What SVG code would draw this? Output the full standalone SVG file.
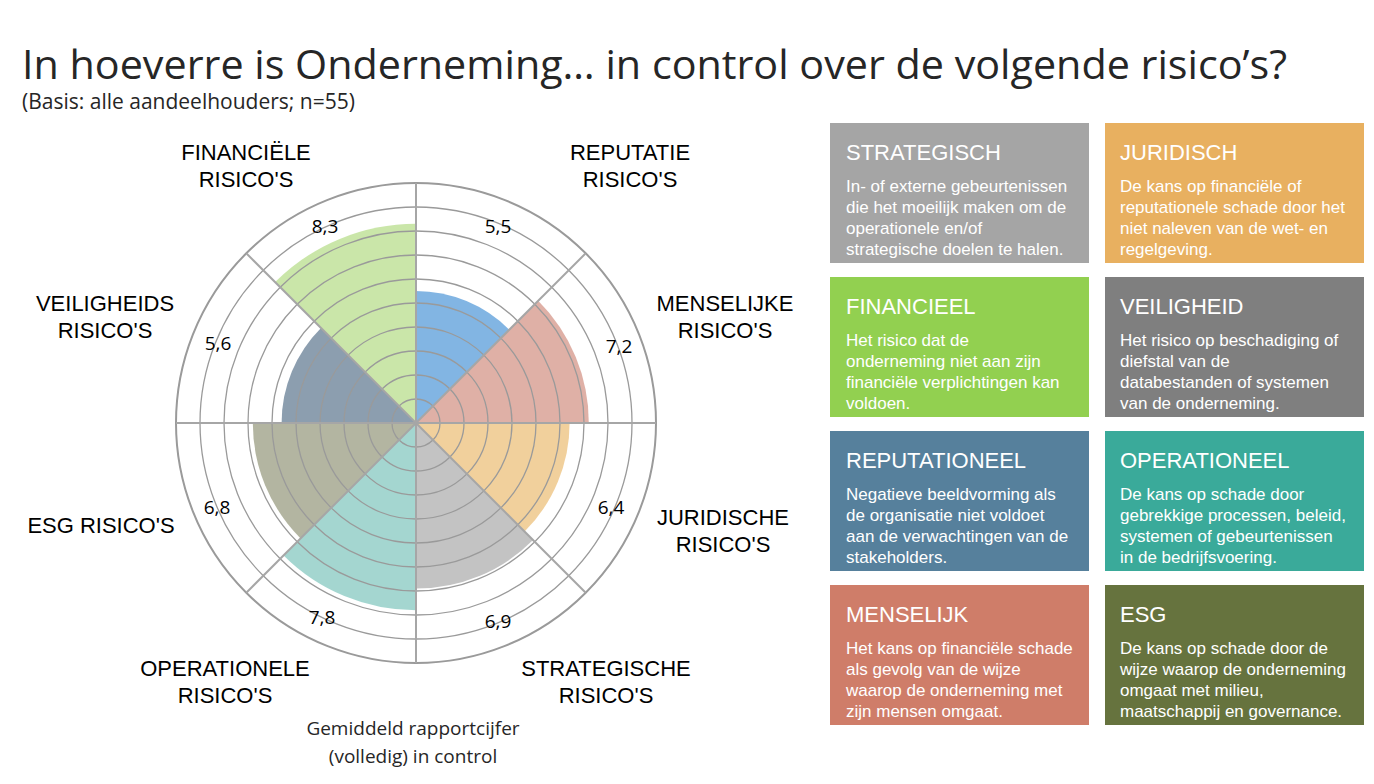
<svg xmlns="http://www.w3.org/2000/svg" width="1374" height="784" viewBox="0 0 1374 784">
<style>
text{font-family:"Open Sans","Liberation Sans",sans-serif;fill:#000}
.t{font-size:41px;fill:#262626}
.s{font-size:21px;fill:#262626}
.v{font-size:19px;text-anchor:middle}
.c{font-size:22px;font-family:"Liberation Sans",Arial,sans-serif;text-anchor:middle}
.ring{fill:none;stroke:#9a9a9a;stroke-width:1.3}
.spk{stroke:#a6a6a6;stroke-width:2}
.ct{font-family:"Liberation Sans",Arial,sans-serif;font-size:22px;fill:#fff}
.cb{font-family:"Liberation Sans",Arial,sans-serif;font-size:17px;fill:#fff}
.sec{fill-opacity:0.9}
</style>
<rect width="1374" height="784" fill="#fff"/>
<text class="t" x="22" y="79" textLength="1265" lengthAdjust="spacingAndGlyphs">In hoeverre is Onderneming… in control over de volgende risico’s?</text>
<text class="s" x="22" y="109">(Basis: alle aandeelhouders; n=55)</text>
<g id="chart">
<path class="sec" fill="#74ade0" d="M416,423 L416,291 A132,132 0 0 1 509.3,329.7 Z"/>
<path class="sec" fill="#dba79c" d="M416,423 L538.2,300.8 A172.8,172.8 0 0 1 588.8,423 Z"/>
<path class="sec" fill="#efcb91" d="M416,423 L569.6,423 A153.6,153.6 0 0 1 524.6,531.6 Z"/>
<path class="sec" fill="#bcbcbc" d="M416,423 L533.1,540.1 A165.6,165.6 0 0 1 416,588.6 Z"/>
<path class="sec" fill="#9ad2cb" d="M416,423 L416,610.2 A187.2,187.2 0 0 1 283.6,555.4 Z"/>
<path class="sec" fill="#abad97" d="M416,423 L300.6,538.4 A163.2,163.2 0 0 1 252.8,423 Z"/>
<path class="sec" fill="#7f93a6" d="M416,423 L281.6,423 A134.4,134.4 0 0 1 321,328 Z"/>
<path class="sec" fill="#c4e3a0" d="M416,423 L275.1,282.1 A199.2,199.2 0 0 1 416,223.8 Z"/>
<g class="ring">
<circle cx="416" cy="423" r="24"/><circle cx="416" cy="423" r="48"/><circle cx="416" cy="423" r="72"/><circle cx="416" cy="423" r="96"/><circle cx="416" cy="423" r="120"/><circle cx="416" cy="423" r="144"/><circle cx="416" cy="423" r="168"/><circle cx="416" cy="423" r="192"/><circle cx="416" cy="423" r="216"/><circle cx="416" cy="423" r="240" stroke-width="2"/>
</g>
<line class="spk" x1="416" y1="183" x2="416" y2="663"/>
<line class="spk" x1="176" y1="423" x2="656" y2="423"/>
<line class="spk" x1="246.3" y1="253.3" x2="585.7" y2="592.7"/>
<line class="spk" x1="585.7" y1="253.3" x2="246.3" y2="592.7"/>
<text class="v" x="325" y="233">8,3</text>
<text class="v" x="498" y="233">5,5</text>
<text class="v" x="619" y="353">7,2</text>
<text class="v" x="611" y="514">6,4</text>
<text class="v" x="498" y="628">6,9</text>
<text class="v" x="322" y="624">7,8</text>
<text class="v" x="217" y="514">6,8</text>
<text class="v" x="218" y="350">5,6</text>
<text class="c" x="246" y="160">FINANCIËLE</text><text class="c" x="246" y="187">RISICO'S</text>
<text class="c" x="630" y="160">REPUTATIE</text><text class="c" x="630" y="187">RISICO'S</text>
<text class="c" x="725" y="311">MENSELIJKE</text><text class="c" x="725" y="338">RISICO'S</text>
<text class="c" x="105" y="311">VEILIGHEIDS</text><text class="c" x="105" y="338">RISICO'S</text>
<text class="c" x="101" y="533">ESG RISICO'S</text>
<text class="c" x="723" y="525">JURIDISCHE</text><text class="c" x="723" y="552">RISICO'S</text>
<text class="c" x="225" y="676">OPERATIONELE</text><text class="c" x="225" y="703">RISICO'S</text>
<text class="c" x="606" y="676">STRATEGISCHE</text><text class="c" x="606" y="703">RISICO'S</text>
<text class="v" x="413" y="735" style="font-size:19px;fill:#262626">Gemiddeld rapportcijfer</text>
<text class="v" x="413" y="763" style="font-size:19px;fill:#262626">(volledig) in control</text>
</g>
<g id="card-strategisch"><rect x="830" y="123" width="259" height="140" fill="#a5a5a5"/><text class="ct" x="846" y="160">STRATEGISCH</text><text class="cb"><tspan x="846" y="192">In- of externe gebeurtenissen</tspan><tspan x="846" y="213">die het moeilijk maken om de</tspan><tspan x="846" y="234">operationele en/of</tspan><tspan x="846" y="255">strategische doelen te halen.</tspan></text></g>
<g id="card-juridisch"><rect x="1105" y="123" width="259" height="140" fill="#e8b060"/><text class="ct" x="1120" y="160">JURIDISCH</text><text class="cb"><tspan x="1120" y="192">De kans op financiële of</tspan><tspan x="1120" y="213">reputationele schade door het</tspan><tspan x="1120" y="234">niet naleven van de wet- en</tspan><tspan x="1120" y="255">regelgeving.</tspan></text></g>
<g id="card-financieel"><rect x="830" y="277" width="259" height="140" fill="#92d050"/><text class="ct" x="846" y="314">FINANCIEEL</text><text class="cb"><tspan x="846" y="346">Het risico dat de</tspan><tspan x="846" y="367">onderneming niet aan zijn</tspan><tspan x="846" y="388">financiële verplichtingen kan</tspan><tspan x="846" y="409">voldoen.</tspan></text></g>
<g id="card-veiligheid"><rect x="1105" y="277" width="259" height="140" fill="#7f7f7f"/><text class="ct" x="1120" y="314">VEILIGHEID</text><text class="cb"><tspan x="1120" y="346">Het risico op beschadiging of</tspan><tspan x="1120" y="367">diefstal van de</tspan><tspan x="1120" y="388">databestanden of systemen</tspan><tspan x="1120" y="409">van de onderneming.</tspan></text></g>
<g id="card-reputationeel"><rect x="830" y="431" width="259" height="140" fill="#56809c"/><text class="ct" x="846" y="468">REPUTATIONEEL</text><text class="cb"><tspan x="846" y="500">Negatieve beeldvorming als</tspan><tspan x="846" y="521">de organisatie niet voldoet</tspan><tspan x="846" y="542">aan de verwachtingen van de</tspan><tspan x="846" y="563">stakeholders.</tspan></text></g>
<g id="card-operationeel"><rect x="1105" y="431" width="259" height="140" fill="#3aaa9a"/><text class="ct" x="1120" y="468">OPERATIONEEL</text><text class="cb"><tspan x="1120" y="500">De kans op schade door</tspan><tspan x="1120" y="521">gebrekkige processen, beleid,</tspan><tspan x="1120" y="542">systemen of gebeurtenissen</tspan><tspan x="1120" y="563">in de bedrijfsvoering.</tspan></text></g>
<g id="card-menselijk"><rect x="830" y="585" width="259" height="140" fill="#cf7d69"/><text class="ct" x="846" y="622">MENSELIJK</text><text class="cb"><tspan x="846" y="654">Het kans op financiële schade</tspan><tspan x="846" y="675">als gevolg van de wijze</tspan><tspan x="846" y="696">waarop de onderneming met</tspan><tspan x="846" y="717">zijn mensen omgaat.</tspan></text></g>
<g id="card-esg"><rect x="1105" y="585" width="259" height="140" fill="#66733e"/><text class="ct" x="1120" y="622">ESG</text><text class="cb"><tspan x="1120" y="654">De kans op schade door de</tspan><tspan x="1120" y="675">wijze waarop de onderneming</tspan><tspan x="1120" y="696">omgaat met milieu,</tspan><tspan x="1120" y="717">maatschappij en governance.</tspan></text></g>
<g id="connectors"/>
</svg>
